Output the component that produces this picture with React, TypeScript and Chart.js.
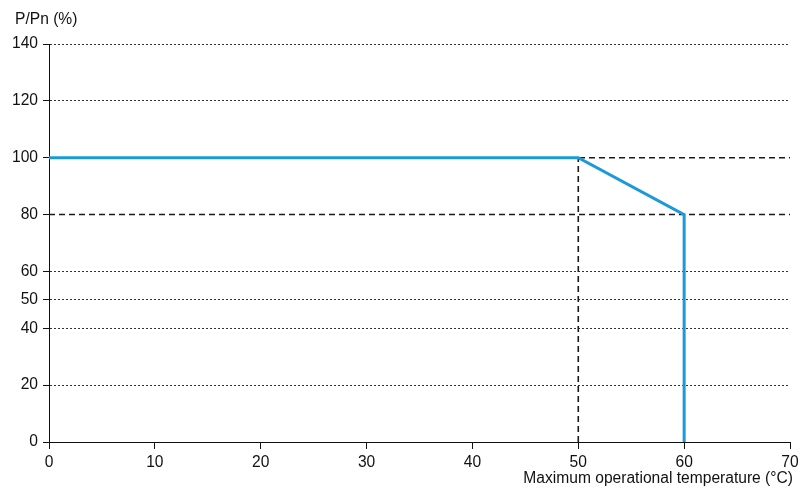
import React, { useEffect, useRef } from "react";
import { Chart, registerables } from "chart.js";

Chart.register(...registerables);

// Data
const yTickValues = [0, 20, 40, 50, 60, 80, 100, 120, 140];
const xMin = 0;
const xMax = 70;
const xStep = 10;
const curveX = [0, 50, 60, 60];
const curveY = [100, 100, 80, 0];
const refLevels = [80, 100];
const refVerticalX = 50;
const refVerticalTop = 100;
const yTitle = "P/Pn (%)";
const xTitle = "Maximum operational temperature (°C)";

const FONT = '"Liberation Sans", Arial, Helvetica, sans-serif';
const FS = 15.6;
const BLUE = "#1b9ad7";

export default function App() {
  const ref = useRef<HTMLCanvasElement | null>(null);

  useEffect(() => {
    if (!ref.current) return;
    const titlePlugin = {
      id: "titles",
      afterDraw(chart: any) {
        const ctx = chart.ctx;
        ctx.save();
        ctx.fillStyle = "#111";
        ctx.font = `${FS}px ${FONT}`;
        ctx.textBaseline = "alphabetic";
        ctx.textAlign = "left";
        ctx.fillText(yTitle, 15, 24);
        ctx.textAlign = "right";
        ctx.fillText(xTitle, 793, 483);
        ctx.restore();
      },
    };

    const datasets: any[] = [];
    refLevels.forEach((lv) => {
      datasets.push({
        data: [
          { x: xMin, y: lv },
          { x: xMax, y: lv },
        ],
        borderColor: "#1a1a1a",
        borderWidth: 1.6,
        borderDash: [6, 4],
        pointRadius: 0,
        order: 2,
      });
    });
    datasets.push({
      data: [
        { x: refVerticalX, y: 0 },
        { x: refVerticalX, y: refVerticalTop },
      ],
      borderColor: "#1a1a1a",
      borderWidth: 1.6,
      borderDash: [6, 4],
      pointRadius: 0,
      order: 2,
    });
    datasets.push({
      data: curveX.map((x, i) => ({ x, y: curveY[i] })),
      borderColor: BLUE,
      borderWidth: 3,
      pointRadius: 0,
      order: 1,
    });

    const chart = new Chart(ref.current, {
      type: "scatter",
      data: { datasets: datasets.map((d) => ({ ...d, showLine: true, fill: false })) },
      options: {
        animation: false,
        responsive: false,
        layout: { padding: { top: 44, right: 21, left: 0, bottom: 0 } },
        plugins: { legend: { display: false }, tooltip: { enabled: false } },
        scales: {
          x: {
            type: "linear",
            min: xMin,
            max: xMax,
            ticks: {
              stepSize: xStep,
              color: "#111",
              font: { family: FONT, size: FS },
              padding: 4,
              maxRotation: 0,
            },
            grid: {
              drawOnChartArea: false,
              drawTicks: true,
              tickLength: 7,
              tickColor: "#111",
              tickWidth: 1,
            },
            border: { display: true, color: "#111", width: 1 },
            afterFit: (s: any) => {
              s.height = 51;
            },
          },
          y: {
            type: "linear",
            min: 0,
            max: 140,
            afterBuildTicks: (s: any) => {
              s.ticks = yTickValues.map((v) => ({ value: v }));
            },
            ticks: {
              color: "#111",
              font: { family: FONT, size: FS },
              padding: 5,
            },
            grid: {
              drawTicks: true,
              tickLength: 6,
              tickColor: "#111",
              tickWidth: 1,
              tickBorderDash: [],
              lineWidth: 1,
              color: (c: any) => {
                const v = c.tick ? c.tick.value : null;
                if (v === 0 || refLevels.includes(v)) return "rgba(0,0,0,0)";
                return "#333";
              },
            },
            border: { display: true, color: "#111", width: 1, dash: [2, 2] },
            afterFit: (s: any) => {
              s.width = 49;
            },
          },
        },
      },
      plugins: [titlePlugin],
    } as any);
    return () => chart.destroy();
  }, []);

  return (
    <div style={{ position: "fixed", left: 0, top: 0, width: 811, height: 493, background: "#fff" }}>
      <canvas ref={ref} width={811} height={493} />
    </div>
  );
}
